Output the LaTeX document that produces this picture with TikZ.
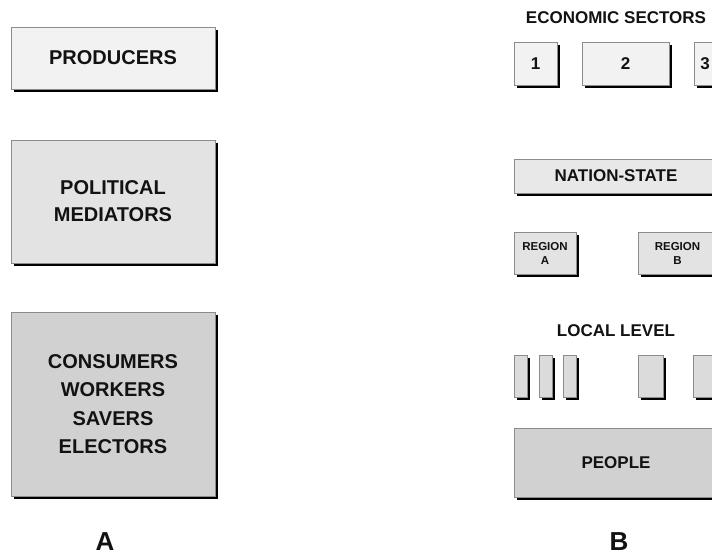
\documentclass[tikz,border=0pt]{standalone}
\usepackage{xcolor}
\usepackage{fontspec}
\setmainfont{Liberation Sans}
\usepackage{tikz}
\usetikzlibrary{shadows}
\tikzset{c-box/.style={rectangle, draw=c_border, line width=0.8pt, fill=white, inner sep=0pt, align=center, text=c_text, font=\bfseries\fontsize{17}{20}\selectfont, drop shadow={shadow xshift=3pt, shadow yshift=-3pt, fill=black, opacity=1}},
c-title/.style={text=c_text, font=\bfseries\fontsize{17}{20}\selectfont}}
\definecolor{c_border}{rgb}{0.55, 0.55, 0.55}
\definecolor{c_text}{rgb}{0.07, 0.07, 0.07}
\definecolor{c_light}{rgb}{0.95, 0.95, 0.95}
\definecolor{c_nation}{rgb}{0.91, 0.91, 0.91}
\definecolor{c_mid}{rgb}{0.89, 0.89, 0.89}
\definecolor{c_local}{rgb}{0.86, 0.86, 0.86}
\definecolor{c_dark}{rgb}{0.82, 0.82, 0.82}
\begin{document}
\begin{tikzpicture}[x=1pt, y=-1pt]
\clip (0,0) rectangle (712,555);
\fill[white] (0,0) rectangle (712,555);
% column A
\node (prod) [c-box, fill=c_light, minimum width=204pt, minimum height=62pt, font=\bfseries\fontsize{20}{27}\selectfont] at (113,58) {PRODUCERS};
\node (pol) [c-box, fill=c_mid, minimum width=204pt, minimum height=123pt, font=\bfseries\fontsize{20}{27}\selectfont] at (113,201.5) {POLITICAL\\MEDIATORS};
\node (cons) [c-box, fill=c_dark, minimum width=204pt, minimum height=184pt, font=\bfseries\fontsize{20}{28.5}\selectfont] at (113,404) {CONSUMERS\\WORKERS\\SAVERS\\ELECTORS};
\node (labA) [c-title, font=\bfseries\fontsize{26}{30}\selectfont] at (105,542) {A};
% column B
\node (sectors) [c-title] at (616,18) {ECONOMIC SECTORS};
\node (s1) [c-box, fill=c_light, minimum width=43pt, minimum height=43pt] at (535.5,63.5) {1};
\node (s2) [c-box, fill=c_light, minimum width=87pt, minimum height=43pt] at (625.5,63.5) {2};
\node (s3) [c-box, fill=c_light, minimum width=22pt, minimum height=43pt] at (705,63.5) {3};
\node (nation) [c-box, fill=c_nation, minimum width=204pt, minimum height=34pt] at (616,176) {NATION-STATE};
\node (regA) [c-box, fill=c_mid, minimum width=62pt, minimum height=42pt, font=\bfseries\fontsize{11.5}{14}\selectfont] at (545,253) {REGION\\A};
\node (regB) [c-box, fill=c_mid, minimum width=79pt, minimum height=42pt, font=\bfseries\fontsize{11.5}{14}\selectfont] at (677.5,253) {REGION\\B};
\node (local) [c-title] at (616,331) {LOCAL LEVEL};
\foreach \x/\w [count=\i] in {520.5/13, 545.5/13, 569.5/13, 650.5/25, 705.5/25}
  \node (loc\i) [c-box, fill=c_local, minimum width=\w pt, minimum height=42pt] at (\x,376) {};
\node (people) [c-box, fill=c_dark, minimum width=204pt, minimum height=69pt] at (616,462.5) {PEOPLE};
\node (labB) [c-title, font=\bfseries\fontsize{26}{30}\selectfont] at (619,542) {B};
\end{tikzpicture}
\end{document}
